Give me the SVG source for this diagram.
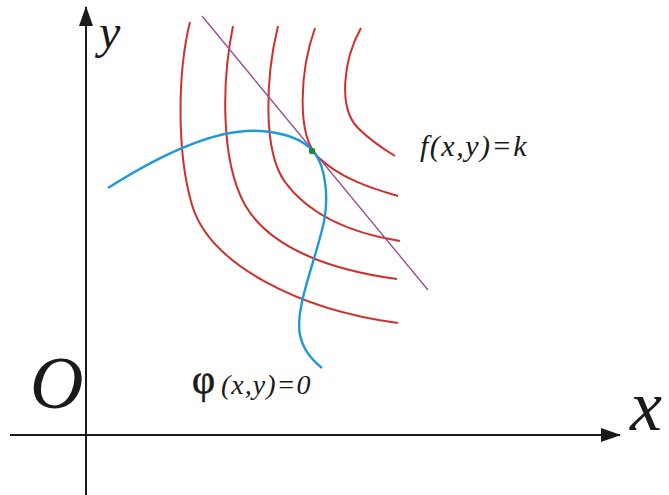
<svg xmlns="http://www.w3.org/2000/svg" width="669" height="495" viewBox="0 0 669 495">
<style>
.axis{stroke:#1a1a1a;stroke-width:2;fill:none}
.level{stroke:#d0302b;stroke-width:2;fill:none}
.constraint{stroke:#1f9ad8;stroke-width:2.4;fill:none}
.tangent{stroke:#9a4f95;stroke-width:1.4;fill:none}
.lbl{font-family:'Liberation Serif','DejaVu Serif',serif;font-style:italic;fill:#1a1a1a}
</style>
<defs>
<marker id="arr" viewBox="0 0 20 14" refX="19" refY="7" markerWidth="20" markerHeight="14" markerUnits="userSpaceOnUse" orient="auto">
<path d="M0,0 L20,7 L0,14 Z" fill="#1a1a1a"/>
</marker>
</defs>
<g id="axes">
<line id="x-axis" class="axis" x1="10" y1="435" x2="620" y2="435" marker-end="url(#arr)"/>
<line id="y-axis" class="axis" x1="86" y1="495" x2="86" y2="7" marker-end="url(#arr)"/>
</g>
<g id="level-curves">
<path class="level" d="M190,22 C178,70 176,150 192,205 C210,265 300,310 398,323"/>
<path class="level" d="M233,26 C222,80 220,160 245,205 C270,248 330,270 397,279"/>
<path class="level" d="M278,26 C266,75 262,150 285,182 C310,216 350,233 400,241"/>
<path class="level" d="M315,28 C300,70 296,135 318,157 C340,178 370,188 398,196"/>
<path class="level" d="M361,28 C343,60 338,108 358,128 C372,142 385,150 395,156"/>
</g>
<g id="tangent-line">
<line class="tangent" x1="202" y1="16" x2="428" y2="290"/>
</g>
<g id="constraint-curve">
<path class="constraint" d="M108,188 C160,155 215,128 260,131 C290,133 305,142 313,151 C326,166 330,200 322,230 C312,270 295,310 300,335 C303,350 312,360 322,368"/>
</g>
<g id="tangent-point">
<circle cx="312" cy="151" r="3.2" fill="#1b8a3c"/>
</g>
<g id="labels">
<text class="lbl" x="99" y="48" font-size="48">y</text>
<text class="lbl" x="30" y="408" font-size="74">O</text>
<text class="lbl" x="630" y="430" font-size="72">x</text>
<text class="lbl" x="420" y="156" font-size="30" letter-spacing="1.5">f(x,y)=k</text>
<text x="192" y="393" font-size="40" font-family="'Liberation Serif','DejaVu Serif',serif" fill="#1a1a1a" stroke="#1a1a1a" stroke-width="0.6">φ</text>
<text class="lbl" x="221" y="394" font-size="28" letter-spacing="1">(x,y)=0</text>
</g>
</svg>
